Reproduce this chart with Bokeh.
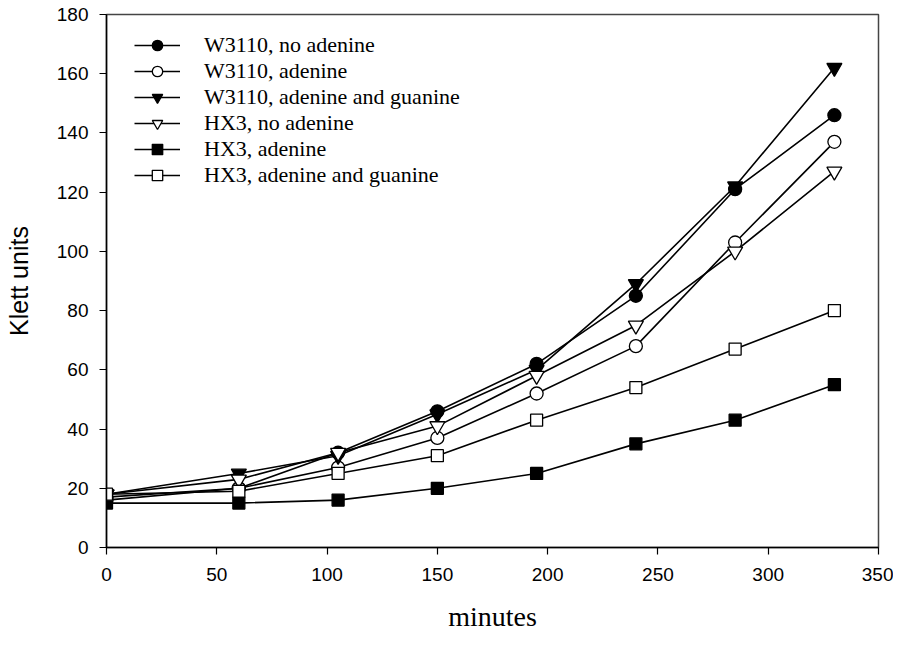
from bokeh.plotting import figure
from bokeh.models import Range1d, SingleIntervalTicker, Legend, LegendItem
from bokeh.embed import file_html
from bokeh.resources import INLINE

# ---- data ----
minutes = [0, 60, 105, 150, 195, 240, 285, 330]
w3110_no_adenine = [17, 20, 32, 46, 62, 85, 121, 146]
w3110_adenine = [16, 20, 27, 37, 52, 68, 103, 137]
w3110_adenine_guanine = [18, 25, 31, 45, 60, 89, 122, 162]
hx3_no_adenine = [18, 23, 32, 41, 58, 75, 100, 127]
hx3_adenine = [15, 15, 16, 20, 25, 35, 43, 55]
hx3_adenine_guanine = [18, 19, 25, 31, 43, 54, 67, 80]

labels = ["W3110, no adenine", "W3110, adenine", "W3110, adenine and guanine",
          "HX3, no adenine", "HX3, adenine", "HX3, adenine and guanine"]
series = [w3110_no_adenine, w3110_adenine, w3110_adenine_guanine,
          hx3_no_adenine, hx3_adenine, hx3_adenine_guanine]
markers = ["circle", "circle", "inverted_triangle", "inverted_triangle", "square", "square"]
fills = ["black", "white", "black", "white", "black", "white"]
sizes = [13, 13, 15, 15, 12, 12]

p = figure(width=893, height=635, output_backend="svg", toolbar_location=None,
           x_range=Range1d(0, 350), y_range=Range1d(0, 180),
           min_border_left=106, min_border_right=15, min_border_top=14, min_border_bottom=88)
p.grid.visible = False
p.background_fill_color = "white"
p.border_fill_color = "white"
p.outline_line_color = "#444444"
p.outline_line_width = 1.5

p.xaxis.ticker = SingleIntervalTicker(interval=50, num_minor_ticks=0)
p.yaxis.ticker = SingleIntervalTicker(interval=20, num_minor_ticks=0)
for ax in (p.xaxis, p.yaxis):
    ax.axis_line_color = "black"
    ax.axis_line_width = 1.5
    ax.major_tick_line_color = "black"
    ax.major_tick_line_width = 1.2
    ax.major_tick_out = 7
    ax.major_tick_in = 0
    ax.minor_tick_line_color = None
    ax.major_label_text_font = "Liberation Sans"
    ax.major_label_text_font_size = "19px"
    ax.major_label_text_color = "black"
    ax.axis_label_text_font_style = "normal"
    ax.axis_label_text_color = "black"
p.xaxis.major_label_standoff = 13
p.yaxis.major_label_standoff = 11

p.xaxis.axis_label = "minutes"
p.xaxis.axis_label_text_font = "Liberation Serif"
p.xaxis.axis_label_text_font_size = "28px"
p.xaxis.axis_label_standoff = 17
p.yaxis.axis_label = "Klett units"
p.yaxis.axis_label_text_font = "Liberation Sans"
p.yaxis.axis_label_text_font_size = "25px"
p.yaxis.axis_label_standoff = 21

line_rs = []
for ys in series:
    line_rs.append(p.line(minutes, ys, line_color="black", line_width=1.6))
items = []
for lab, ys, m, fc, sz, lr in zip(labels, series, markers, fills, sizes, line_rs):
    sr = p.scatter(minutes, ys, marker=m, size=sz, fill_color=fc,
                   line_color="black", line_width=1.3)
    items.append(LegendItem(label=lab, renderers=[lr, sr]))

legend = Legend(items=items, location=(28, 359), padding=0, margin=0,
                spacing=0, glyph_width=46, glyph_height=26, label_height=20,
                label_standoff=24, label_text_font="Liberation Serif",
                label_text_font_size="22px", label_text_color="black",
                border_line_alpha=0, background_fill_alpha=0)
p.add_layout(legend)

open("out.html", "w").write(file_html(p, INLINE))
